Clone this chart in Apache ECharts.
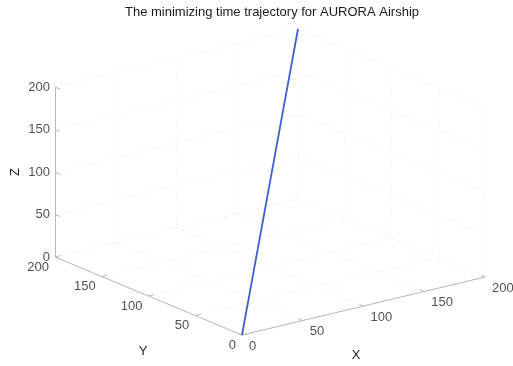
<!DOCTYPE html>
<html>
<head>
<meta charset="utf-8">
<title>The minimizing time trajectory for AURORA Airship</title>
<script src="https://cdn.jsdelivr.net/npm/echarts@6/dist/echarts.min.js"></script>
<style>
  html, body { margin: 0; padding: 0; background: #ffffff; }
  #chart { width: 513px; height: 366px; }
</style>
</head>
<body>
<div id="chart"></div>
<script>
// Tick values on the three axes
const xTicks = [0, 50, 100, 150, 200];
const yTicks = [0, 50, 100, 150, 200];
const zTicks = [0, 50, 100, 150, 200];

// Airship trajectory samples (x, y, z)
const trajX = [0, 40, 80, 120, 160, 200];
const trajY = [0, 40, 80, 120, 160, 200];
const trajZ = [0, 40, 80, 120, 160, 200];

const AX_MIN = 0, AX_MAX = 200;

// Orthographic view: screen position of the origin and of one unit along each axis
const VIEW = {
  origin: [242, 335],
  ux: [1.215, -0.29],
  uy: [-0.935, -0.39],
  uz: [0, -0.85]
};

function project(x, y, z) {
  return [
    VIEW.origin[0] + x * VIEW.ux[0] + y * VIEW.uy[0] + z * VIEW.uz[0],
    VIEW.origin[1] + x * VIEW.ux[1] + y * VIEW.uy[1] + z * VIEW.uz[1]
  ];
}
function seg(a, b) {
  return { coords: [project(a[0], a[1], a[2]), project(b[0], b[1], b[2])] };
}

// Grid lines on the floor and the two back walls
const gridSegs = [];
xTicks.forEach(function (t) {
  gridSegs.push(seg([t, AX_MIN, AX_MIN], [t, AX_MAX, AX_MIN]));
  gridSegs.push(seg([t, AX_MAX, AX_MIN], [t, AX_MAX, AX_MAX]));
});
yTicks.forEach(function (t) {
  gridSegs.push(seg([AX_MIN, t, AX_MIN], [AX_MAX, t, AX_MIN]));
  gridSegs.push(seg([AX_MAX, t, AX_MIN], [AX_MAX, t, AX_MAX]));
});
zTicks.forEach(function (t) {
  gridSegs.push(seg([AX_MAX, AX_MIN, t], [AX_MAX, AX_MAX, t]));
  gridSegs.push(seg([AX_MIN, AX_MAX, t], [AX_MAX, AX_MAX, t]));
});

// Axis lines and tick marks
const TICK = 4.5;
const axisSegs = [
  seg([AX_MIN, AX_MIN, AX_MIN], [AX_MAX, AX_MIN, AX_MIN]),
  seg([AX_MIN, AX_MIN, AX_MIN], [AX_MIN, AX_MAX, AX_MIN]),
  seg([AX_MIN, AX_MAX, AX_MIN], [AX_MIN, AX_MAX, AX_MAX])
];
xTicks.forEach(function (t) { axisSegs.push(seg([t, 0, 0], [t, TICK, 0])); });
yTicks.forEach(function (t) { axisSegs.push(seg([0, t, 0], [TICK, t, 0])); });
zTicks.forEach(function (t) { axisSegs.push(seg([0, AX_MAX, t], [0, AX_MAX - TICK * 1.2, t])); });

const trajData = trajX.map(function (x, i) { return project(x, trajY[i], trajZ[i]); });

const TEXT_COLOR = '#262626';
const labelFont = { fontFamily: 'Liberation Sans, Arial, sans-serif', fontSize: 13, color: TEXT_COLOR };

function tickLabelSeries(points, values, label) {
  return {
    type: 'scatter',
    symbolSize: 1,
    itemStyle: { color: 'rgba(255,255,255,0)' },
    silent: true,
    z: 5,
    data: points.map(function (p, i) { return { value: p, name: String(values[i]) }; }),
    label: Object.assign({ show: true, formatter: '{b}' }, labelFont, label)
  };
}

const chart = echarts.init(document.getElementById('chart'), null, { renderer: 'canvas' });

chart.setOption({
  animation: false,
  backgroundColor: '#ffffff',
  title: {
    text: 'The minimizing time trajectory for AURORA Airship',
    left: 272,
    top: 6,
    padding: 0,
    textAlign: 'center',
    textStyle: { fontFamily: 'Liberation Sans, Arial, sans-serif', fontSize: 13, fontWeight: 'normal', color: '#1a1a1a' }
  },
  grid: { left: 0, right: 0, top: 0, bottom: 0 },
  xAxis: { type: 'value', min: 0, max: 513, show: false },
  yAxis: { type: 'value', min: 0, max: 366, inverse: true, show: false },
  graphic: [
    { type: 'text', x: 356, y: 355, style: { text: 'X', align: 'center', verticalAlign: 'middle', fill: TEXT_COLOR, font: '13px Liberation Sans, Arial, sans-serif' } },
    { type: 'text', x: 143, y: 351, style: { text: 'Y', align: 'center', verticalAlign: 'middle', fill: TEXT_COLOR, font: '13px Liberation Sans, Arial, sans-serif' } },
    { type: 'text', x: 15, y: 172, rotation: Math.PI / 2, style: { text: 'Z', align: 'center', verticalAlign: 'middle', fill: TEXT_COLOR, font: '13px Liberation Sans, Arial, sans-serif' } }
  ],
  series: [
    {
      type: 'lines',
      coordinateSystem: 'cartesian2d',
      silent: true,
      z: 1,
      lineStyle: { color: '#efefef', width: 1, type: [1, 2], opacity: 1 },
      data: gridSegs
    },
    {
      type: 'lines',
      coordinateSystem: 'cartesian2d',
      silent: true,
      z: 2,
      lineStyle: { color: '#b8b8bc', width: 1, opacity: 1 },
      data: axisSegs
    },
    {
      type: 'line',
      data: trajData,
      showSymbol: false,
      silent: true,
      z: 4,
      lineStyle: { color: '#3d5fd0', width: 1.8 }
    },
    tickLabelSeries(xTicks.map(function (t) { return project(t, 0, 0); }), xTicks,
      { position: 'inside', align: 'left', verticalAlign: 'middle', offset: [7, 11] }),
    tickLabelSeries(yTicks.map(function (t) { return project(0, t, 0); }), yTicks,
      { position: 'inside', align: 'right', verticalAlign: 'middle', offset: [-6, 10] }),
    tickLabelSeries(zTicks.map(function (t) { return project(0, AX_MAX, t); }), zTicks,
      { position: 'inside', align: 'right', verticalAlign: 'middle', offset: [-5, 0] })
  ]
});
</script>
</body>
</html>
